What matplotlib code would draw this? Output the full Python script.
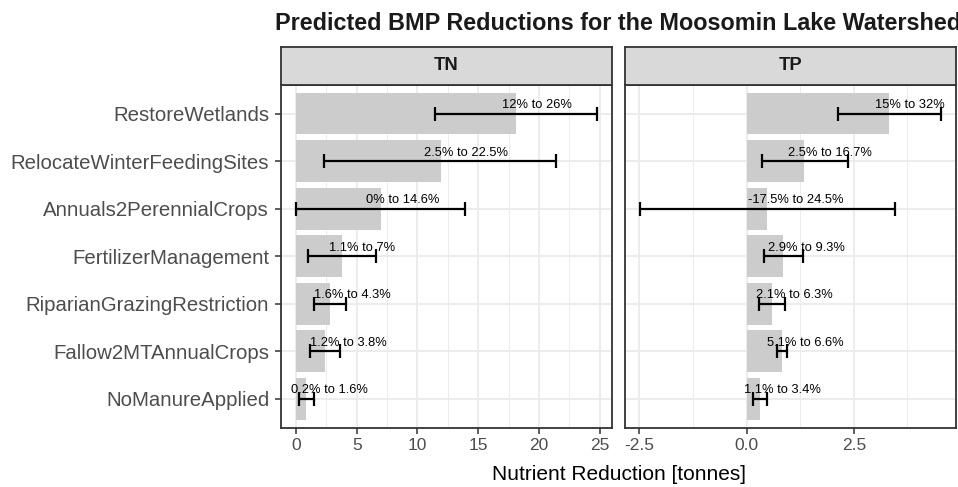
import matplotlib
matplotlib.use("Agg")
import matplotlib.pyplot as plt
import matplotlib.transforms as mtransforms
import numpy as np

plt.rcParams['font.family'] = ['Liberation Sans', 'DejaVu Sans']

# ---------------- data ----------------
practices = ["RestoreWetlands", "RelocateWinterFeedingSites", "Annuals2PerennialCrops",
             "FertilizerManagement", "RiparianGrazingRestriction", "Fallow2MTAnnualCrops",
             "NoManureApplied"]

tn_value = [18.1, 11.9, 6.96, 3.82, 2.78, 2.42, 0.83]
tn_low = [11.45, 2.34, 0.0, 1.0, 1.49, 1.13, 0.23]
tn_high = [24.78, 21.39, 13.94, 6.61, 4.15, 3.65, 1.46]
tn_labels = ["12% to 26%", "2.5% to 22.5%", "0% to 14.6%", "1.1% to 7%",
             "1.6% to 4.3%", "1.2% to 3.8%", "0.2% to 1.6%"]

tp_value = [3.31, 1.35, 0.48, 0.85, 0.59, 0.83, 0.31]
tp_low = [2.12, 0.36, -2.48, 0.40, 0.29, 0.72, 0.155]
tp_high = [4.53, 2.36, 3.47, 1.32, 0.90, 0.94, 0.48]
tp_labels = ["15% to 32%", "2.5% to 16.7%", "-17.5% to 24.5%", "2.9% to 9.3%",
             "2.1% to 6.3%", "5.1% to 6.6%", "1.1% to 3.4%"]

tn_major = [0, 5, 10, 15, 20, 25]
tn_minor = [2.5, 7.5, 12.5, 17.5, 22.5]
tp_major = [-2.5, 0.0, 2.5]
tp_major_labels = ["-2.5", "0.0", "2.5"]
tp_minor = [-1.25, 1.25, 3.75]

title = "Predicted BMP Reductions for the Moosomin Lake Watershed"
xlabel = "Nutrient Reduction [tonnes]"
facets = ["TN", "TP"]

# ---------------- layout ----------------
W, H = 958, 487
DPI = 100
fig = plt.figure(figsize=(W / DPI, H / DPI), dpi=DPI)

def rect(x0, x1, y0, y1):
    return [x0 / W, 1 - y1 / H, (x1 - x0) / W, (y1 - y0) / H]

panel_top, panel_bot = 85, 427.5
strip_top = 46.5
panels_x = [(281, 612), (625, 956)]

GRID = "#EBEBEB"
DARK = "#333333"
TXT = "#4D4D4D"

n = len(practices)
ypos = np.arange(n)[::-1]

series = [
    (tn_value, tn_low, tn_high, tn_labels, tn_major, None, tn_minor),
    (tp_value, tp_low, tp_high, tp_labels, tp_major, tp_major_labels, tp_minor),
]

texts = []
for i, (vals, lo, hi, labs, major, major_labs, minor) in enumerate(series):
    x0, x1 = panels_x[i]
    ax = fig.add_axes(rect(x0, x1, panel_top, panel_bot))
    ax.set_facecolor("white")
    vals = np.array(vals)
    lo = np.array(lo)
    hi = np.array(hi)
    dmin = min(0, lo.min(), vals.min())
    dmax = max(hi.max(), vals.max())
    pad = 0.05 * (dmax - dmin)
    ax.set_xlim(dmin - pad, dmax + pad)
    ax.set_ylim(-0.6, n - 0.4)

    ax.set_xticks(major)
    if major_labs is not None:
        ax.set_xticklabels(major_labs)
    ax.set_xticks(minor, minor=True)
    ax.grid(True, which="major", color=GRID, linewidth=1.3, zorder=0)
    ax.grid(True, which="minor", axis="x", color=GRID, linewidth=0.65, zorder=0)
    ax.set_axisbelow(True)

    ax.barh(ypos, vals, height=0.88, color="#CCCCCC", zorder=2)
    ax.errorbar(vals, ypos, xerr=[vals - lo, hi - vals], fmt="none",
                ecolor="black", elinewidth=1.6, capsize=5, capthick=1.6, zorder=3)

    for v, y, lab in zip(vals, ypos, labs):
        t = ax.text(v, y, lab, fontsize=9.3, color="black", ha="left",
                    va="baseline", zorder=4, clip_on=False)
        texts.append(t)

    ax.set_yticks(ypos)
    if i == 0:
        ax.set_yticklabels(practices, fontsize=14.7, color=TXT)
    else:
        ax.set_yticklabels([])
    ax.tick_params(axis="both", which="major", length=4.5, width=1.1, color=DARK)
    ax.tick_params(axis="x", which="minor", length=0)
    ax.tick_params(axis="x", labelsize=12.5, labelcolor=TXT, pad=3)
    ax.tick_params(axis="y", pad=4)
    if i == 1:
        ax.tick_params(axis="y", length=0)
    for s in ax.spines.values():
        s.set_color(DARK)
        s.set_linewidth(1.3)
        s.set_zorder(5)

    # strip
    sax = fig.add_axes(rect(x0, x1, strip_top, panel_top))
    sax.set_facecolor("#D9D9D9")
    sax.set_xticks([])
    sax.set_yticks([])
    for s in sax.spines.values():
        s.set_color(DARK)
        s.set_linewidth(1.3)
    sax.text(0.5, 0.5, facets[i], transform=sax.transAxes, ha="center", va="center",
             fontsize=13.2, fontweight="bold", color="#1A1A1A")

fig.text(618.5 / W, 1 - 23 / H, title, ha="center", va="center",
         fontsize=16.8, fontweight="bold", color="#1A1A1A")
fig.text(619 / W, 1 - 475 / H, xlabel, ha="center", va="center",
         fontsize=15, color="black")

# shift labels: hjust 0.2, slightly above bar centre
fig.canvas.draw()
renderer = fig.canvas.get_renderer()
for t in texts:
    w = t.get_window_extent(renderer).width
    t.set_transform(t.get_transform() + mtransforms.Affine2D().translate(-0.2 * w, 5.5))

fig.savefig("out.png", dpi=DPI)
